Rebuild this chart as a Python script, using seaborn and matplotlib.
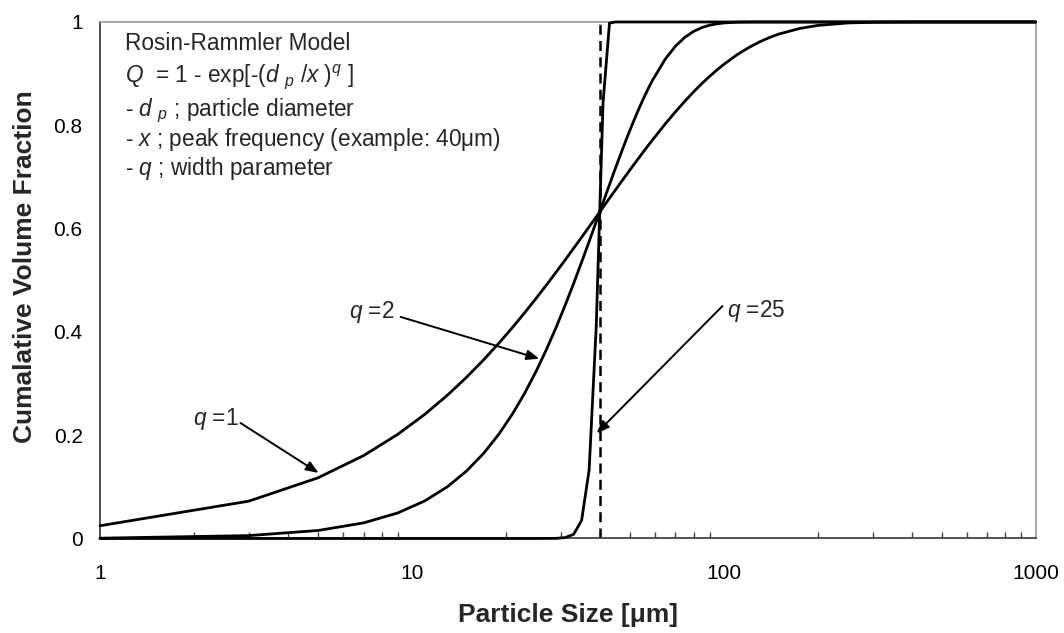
import matplotlib
matplotlib.use("Agg")
import matplotlib.pyplot as plt
import seaborn as sns
import pandas as pd

# ---- data ----
d_um = [1, 3, 5, 7, 9, 11, 13, 15, 17, 19, 21, 23, 25, 27, 29, 31, 33, 35, 37, 39,
        41, 43, 45, 47, 49, 51, 53, 55, 57, 59, 65, 70, 75, 80, 85, 90, 95, 100,
        110, 120, 130, 140, 150, 175, 200, 250, 300, 400, 500, 1000]
Q_q1 = [0.0247, 0.0723, 0.1175, 0.1605, 0.2015, 0.2404, 0.2775, 0.3127, 0.3462, 0.3781,
        0.4084, 0.4373, 0.4647, 0.4908, 0.5157, 0.5393, 0.5618, 0.5831, 0.6035, 0.6228,
        0.6412, 0.6587, 0.6753, 0.6912, 0.7062, 0.7206, 0.7342, 0.7472, 0.7595, 0.7712,
        0.8031, 0.8262, 0.8466, 0.8647, 0.8806, 0.8946, 0.9070, 0.9179,
        0.9361, 0.9502, 0.9612, 0.9698, 0.9765, 0.9874, 0.9933, 0.9981, 0.9994, 1.0, 1.0, 1.0]
Q_q2 = [0.0006, 0.0056, 0.0155, 0.0302, 0.0494, 0.0728, 0.1002, 0.1312, 0.1652, 0.2020,
        0.2409, 0.2815, 0.3233, 0.3659, 0.4088, 0.4515, 0.4937, 0.5350, 0.5750, 0.6135,
        0.6503, 0.6851, 0.7180, 0.7486, 0.7770, 0.8032, 0.8272, 0.8490, 0.8688, 0.8865,
        0.9287, 0.9532, 0.9703, 0.9817, 0.9891, 0.9937, 0.9964, 0.9981,
        0.9995, 0.9999, 1.0, 1.0, 1.0, 1.0, 1.0, 1.0, 1.0, 1.0, 1.0, 1.0]
Q_q25 = [0.0, 0.0, 0.0, 0.0, 0.0, 0.0, 0.0, 0.0, 0.0, 0.0,
         0.0, 0.0, 0.0, 0.0001, 0.0003, 0.0017, 0.0081, 0.0349, 0.1327, 0.4120,
         0.8434, 0.9978, 1.0, 1.0, 1.0, 1.0, 1.0, 1.0, 1.0, 1.0,
         1.0, 1.0, 1.0, 1.0, 1.0, 1.0, 1.0, 1.0,
         1.0, 1.0, 1.0, 1.0, 1.0, 1.0, 1.0, 1.0, 1.0, 1.0, 1.0, 1.0]
q_labels = ["q=1", "q=2", "q=25"]
peak_x = 40
x_ticks = [1, 10, 100, 1000]
x_tick_labels = ["1", "10", "100", "1000"]
y_ticks = [0, 0.2, 0.4, 0.6, 0.8, 1.0]
y_tick_labels = ["0", "0.2", "0.4", "0.6", "0.8", "1"]

df = pd.concat([
    pd.DataFrame({"d": d_um, "Q": Q_q1, "series": q_labels[0]}),
    pd.DataFrame({"d": d_um, "Q": Q_q2, "series": q_labels[1]}),
    pd.DataFrame({"d": d_um, "Q": Q_q25, "series": q_labels[2]}),
])

sns.set_style("white")
plt.rcParams["font.family"] = ["Liberation Sans", "DejaVu Sans"]
plt.rcParams["mathtext.fontset"] = "custom"
plt.rcParams["mathtext.rm"] = "Liberation Sans"
plt.rcParams["mathtext.it"] = "Liberation Sans:italic"
plt.rcParams["mathtext.bf"] = "Liberation Sans:bold"

fig = plt.figure(figsize=(10.64, 6.33), dpi=100)
ax = fig.add_axes([0.094, 0.1493, 0.8794, 0.816])

for s in q_labels:
    sns.lineplot(data=df[df["series"] == s], x="d", y="Q", color="black",
                 linewidth=2.0, sort=False, estimator=None, ax=ax, legend=False,
                 clip_on=False, zorder=3)

ax.plot([peak_x, peak_x], [0, 1], color="black", linestyle=(0, (4, 2.5)),
        linewidth=1.8, zorder=2)

ax.set_xscale("log")
ax.set_xlim(1, 1000)
ax.set_ylim(0, 1)
ax.set_xticks(x_ticks)
ax.set_xticklabels(x_tick_labels)
ax.set_yticks(y_ticks)
ax.set_yticklabels(y_tick_labels)
ax.tick_params(axis="both", which="major", direction="inout", length=11,
               width=1.0, color="#444444", labelsize=15, labelcolor="black")
ax.tick_params(axis="x", which="major", pad=13)
ax.tick_params(axis="y", which="major", pad=7)
ax.tick_params(axis="x", which="minor", direction="in", length=4.5,
               width=1.0, color="#444444", bottom=True)
ax.tick_params(axis="y", which="minor", left=False)

for side in ["left", "bottom"]:
    ax.spines[side].set_color("#444444")
    ax.spines[side].set_linewidth(1.3)
for side in ["top", "right"]:
    ax.spines[side].set_color("#9a9a9a")
    ax.spines[side].set_linewidth(1.2)

ax.set_xlabel("Particle Size [\u03bcm]", fontsize=19, fontweight="bold")
ax.set_ylabel("Cumalative Volume Fraction", fontsize=19, fontweight="bold")
ax.xaxis.set_label_coords(0.5, -0.1249)
ax.yaxis.set_label_coords(-0.067, 0.527)

# model description text
txt_lines = [
    "Rosin-Rammler Model",
    r"$Q$  = 1 - exp[-($d$ $_p$ /$x$ )$^q$ ]",
    r"- $d$ $_p$ ; particle diameter",
    "- $x$ ; peak frequency (example: 40\u03bcm)",
    "- $q$ ; width parameter",
]
txt_base = [0.9458, 0.8829, 0.8170, 0.7599, 0.7028]
for line, yb in zip(txt_lines, txt_base):
    ax.text(0.0267, yb, line, transform=ax.transAxes,
            fontsize=16.3, va="baseline", ha="left")

arrow_kw = dict(arrowstyle="-|>,head_length=0.75,head_width=0.3", color="black",
                lw=1.4, shrinkA=0, shrinkB=0)
ax.annotate("", xy=(5.02, 0.127), xytext=(2.82, 0.2236), arrowprops=arrow_kw)
ax.text(2.78, 0.2197, "$q$ =1", fontsize=16.3, ha="right", va="baseline")
ax.annotate("", xy=(25.6, 0.348), xytext=(9.2, 0.429), arrowprops=arrow_kw)
ax.text(8.78, 0.4263, "$q$ =2", fontsize=16.3, ha="right", va="baseline")
ax.annotate("", xy=(39.1, 0.2037), xytext=(99.0, 0.450), arrowprops=arrow_kw)
ax.text(102.2, 0.4283, "$q$ =25", fontsize=16.3, ha="left", va="baseline")

fig.savefig("out.png", dpi=100)
